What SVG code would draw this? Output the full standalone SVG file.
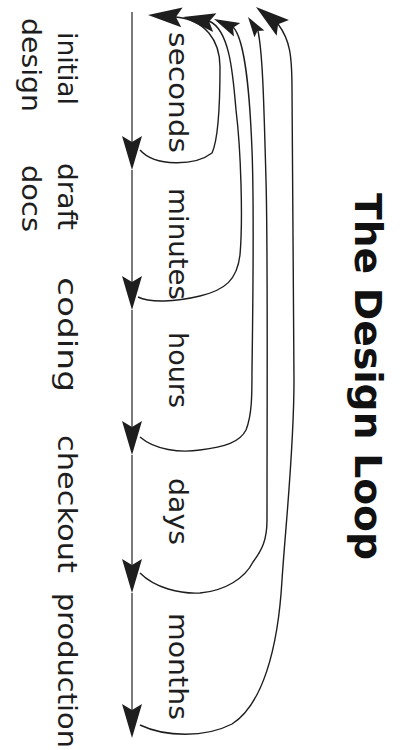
<svg xmlns="http://www.w3.org/2000/svg" xmlns:xlink="http://www.w3.org/1999/xlink" width="405" height="750" viewBox="0 0 405 750">
  <style>
    .lbl { font-family: "DejaVu Sans", "Liberation Sans", sans-serif; font-size: 26px; fill: #1e1e1e; }
    .title { font-family: "DejaVu Sans", "Liberation Sans", sans-serif; font-size: 37px; font-weight: bold; fill: #111; }
    .flow { fill: none; stroke: #333; stroke-width: 1.3; }
    .loop { fill: none; stroke: #1e1e1e; stroke-width: 1.4; }
    .head { fill: #1e1e1e; stroke: none; }
  </style>
  <defs>
    <!-- barbed arrowhead, tip at origin, pointing along +x -->
    <path id="ah" d="M0,0 L-34,-10 L-28,0 L-34,10 Z"/>
  </defs>

  <rect width="405" height="750" fill="#fff"/>

  <!-- title -->
  <g id="title">
    <text class="title" transform="translate(355,193) rotate(90)" textLength="367" lengthAdjust="spacingAndGlyphs">The Design Loop</text>
  </g>

  <!-- phases along the left -->
  <g id="phase-initial-design">
    <text class="lbl" transform="translate(58,32) rotate(90)" textLength="73" lengthAdjust="spacingAndGlyphs">initial</text>
    <text class="lbl" transform="translate(22,18) rotate(90)" textLength="94" lengthAdjust="spacingAndGlyphs">design</text>
  </g>
  <g id="phase-draft-docs">
    <text class="lbl" transform="translate(58,163) rotate(90)" textLength="67" lengthAdjust="spacingAndGlyphs">draft</text>
    <text class="lbl" transform="translate(22,165) rotate(90)" textLength="67" lengthAdjust="spacingAndGlyphs">docs</text>
  </g>
  <g id="phase-coding">
    <text class="lbl" transform="translate(58,277) rotate(90)" textLength="115" lengthAdjust="spacingAndGlyphs">coding</text>
  </g>
  <g id="phase-checkout">
    <text class="lbl" transform="translate(58,435) rotate(90)" textLength="138" lengthAdjust="spacingAndGlyphs">checkout</text>
  </g>
  <g id="phase-production">
    <text class="lbl" transform="translate(58,593) rotate(90)" textLength="155" lengthAdjust="spacingAndGlyphs">production</text>
  </g>

  <!-- loop durations -->
  <g id="dur-seconds">
    <text class="lbl" transform="translate(169,32) rotate(90)" textLength="121" lengthAdjust="spacingAndGlyphs">seconds</text>
  </g>
  <g id="dur-minutes">
    <text class="lbl" transform="translate(169,188) rotate(90)" textLength="112" lengthAdjust="spacingAndGlyphs">minutes</text>
  </g>
  <g id="dur-hours">
    <text class="lbl" transform="translate(169,332) rotate(90)" textLength="76" lengthAdjust="spacingAndGlyphs">hours</text>
  </g>
  <g id="dur-days">
    <text class="lbl" transform="translate(169,478) rotate(90)" textLength="67" lengthAdjust="spacingAndGlyphs">days</text>
  </g>
  <g id="dur-months">
    <text class="lbl" transform="translate(169,613) rotate(90)" textLength="107" lengthAdjust="spacingAndGlyphs">months</text>
  </g>

  <g id="connectors">
    <!-- forward flow down the spine -->
    <g id="spine">
      <path class="flow" d="M132,12 V150"/>
      <path class="flow" d="M132,170 V290"/>
      <path class="flow" d="M132,310 V435"/>
      <path class="flow" d="M132,455 V573"/>
      <path class="flow" d="M132,593 V718"/>
      <use xlink:href="#ah" class="head" transform="translate(132,170) rotate(90)"/>
      <use xlink:href="#ah" class="head" transform="translate(132,310) rotate(90)"/>
      <use xlink:href="#ah" class="head" transform="translate(132,455) rotate(90)"/>
      <use xlink:href="#ah" class="head" transform="translate(132,593) rotate(90)"/>
      <use xlink:href="#ah" class="head" transform="translate(132,738) rotate(90)"/>
    </g>

    <!-- feedback loops back to the start -->
    <g id="loops">
      <path class="loop" d="M140,150 C155,167 195,166 212,153 C218,140 220,100 220,67 C220,40 205,20 176,17"/>
      <path class="loop" d="M138,297 C150,303 175,302 200,296 C225,290 237,280 240,255 C243,220 241,150 236,110 C233,75 230,30 209,21"/>
      <path class="loop" d="M140,437 C155,450 180,453 200,450 C225,447 240,442 246,430 C252,415 252,395 252,370 C253,300 254,200 252,150 C250,100 246,40 233,27"/>
      <path class="loop" d="M140,573 C155,588 180,594 200,593 C225,591 245,578 253,562 C262,550 267,540 267,520 C267,400 268,250 266,180 C264,110 263,55 258,31"/>
      <path class="loop" d="M140,725 C165,737 205,738 232,724 C262,705 278,650 282,580 C286,520 294,450 294,380 C294,250 292,150 292,90 C292,55 290,40 278,24"/>
      <use xlink:href="#ah" class="head" transform="translate(148,15) rotate(184)"/>
      <use xlink:href="#ah" class="head" transform="translate(183,17) rotate(190) scale(0.95)"/>
      <use xlink:href="#ah" class="head" transform="translate(214,19) rotate(205) scale(0.75)"/>
      <use xlink:href="#ah" class="head" transform="translate(248,17) rotate(236) scale(0.6)"/>
      <use xlink:href="#ah" class="head" transform="translate(256,7) rotate(218)"/>
    </g>
  </g>
</svg>
